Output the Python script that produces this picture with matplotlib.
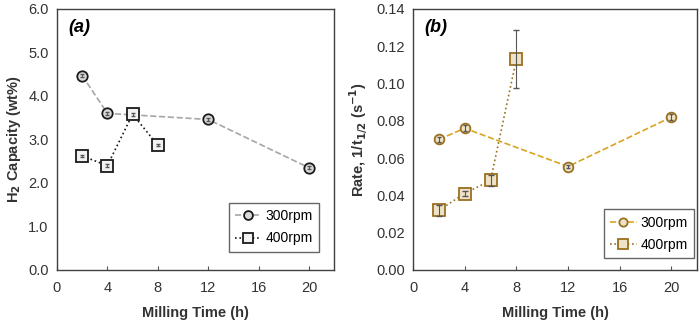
import matplotlib
matplotlib.use("Agg")
import matplotlib.pyplot as plt

plt.rcParams["font.family"] = ["Liberation Sans", "DejaVu Sans"]

time_300 = [2, 4, 12, 20]
time_400 = [2, 4, 6, 8]

cap_300 = [4.47, 3.60, 3.46, 2.35]
cap_400 = [2.62, 2.40, 3.58, 2.87]
cap_300_err = [0.03, 0.03, 0.03, 0.03]
cap_400_err = [0.03, 0.03, 0.03, 0.03]

rate_300 = [0.070, 0.076, 0.0555, 0.082]
rate_400 = [0.032, 0.041, 0.048, 0.113]
rate_300_err = [0.0015, 0.0015, 0.001, 0.0015]
rate_400_err = [0.003, 0.0015, 0.003, 0.0155]

x_ticks = [0, 4, 8, 12, 16, 20]

fig = plt.figure(figsize=(7, 3.21), dpi=100)
ax1 = fig.add_axes([0.0814, 0.159, 0.396, 0.813])
ax2 = fig.add_axes([0.590, 0.159, 0.406, 0.813])

label_kw = dict(fontsize=10.5, fontweight="bold", color="#333333")
err_kw = dict(fmt="none", ecolor="#555555", elinewidth=0.8, capsize=1.5, zorder=4)


def series(ax, x, y, err, label, color, ls, marker, ms, mfc, mec, capsize=1.5):
    ax.plot(x, y, color=color, ls=ls, lw=1.2, marker=marker, ms=ms,
            mfc=mfc, mec=mec, mew=1.3, label=label, zorder=3)
    ax.errorbar(x, y, yerr=err, **{**err_kw, "capsize": capsize})


# (a) capacity
series(ax1, time_300, cap_300, cap_300_err, "300rpm", "#a6a6a6", "--", "o", 7.5,
       "#d9d9d9", "#1a1a1a")
series(ax1, time_400, cap_400, cap_400_err, "400rpm", "#1a1a1a", ":", "s", 8,
       "#f2f2f2", "#1a1a1a")
ax1.set_xlim(0, 22)
ax1.set_ylim(0, 6)
ax1.set_yticks([0, 1, 2, 3, 4, 5, 6])
ax1.set_yticklabels([f"{v:.1f}" for v in [0, 1, 2, 3, 4, 5, 6]])
ax1.set_ylabel("H$_\\mathbf{2}$ Capacity (wt%)", **label_kw)
ax1.text(0.04, 0.93, "(a)", transform=ax1.transAxes, fontsize=13,
         fontweight="bold", style="italic", va="center")

# (b) rate
series(ax2, time_300, rate_300, rate_300_err, "300rpm", "#d9a520", "--", "o", 7,
       "#eee3c8", "#9a7020")
series(ax2, time_400, rate_400, rate_400_err, "400rpm", "#9a7020", ":", "s", 8,
       "#eee3c8", "#9a7020", capsize=2)
ax2.set_xlim(0, 22)
ax2.set_ylim(0, 0.14)
rate_ticks = [0, 0.02, 0.04, 0.06, 0.08, 0.10, 0.12, 0.14]
ax2.set_yticks(rate_ticks)
ax2.set_yticklabels([f"{v:.2f}" for v in rate_ticks])
ax2.set_ylabel("Rate, 1/t$_\\mathbf{1/2}$ (s$^\\mathbf{-1}$)", **label_kw)
ax2.text(0.04, 0.93, "(b)", transform=ax2.transAxes, fontsize=13,
         fontweight="bold", style="italic", va="center")

for ax, anchor in ((ax1, (0.945, 0.07)), (ax2, (0.99, 0.045))):
    ax.set_xticks(x_ticks)
    ax.set_xlabel("Milling Time (h)", labelpad=8, **label_kw)
    ax.tick_params(axis="x", direction="in", length=3, pad=8, labelsize=10.5,
                   color="#555555", labelcolor="#333333")
    ax.tick_params(axis="y", length=0, pad=6, labelsize=10.5, labelcolor="#333333")
    for s in ax.spines.values():
        s.set_color("#404040")
        s.set_linewidth(1)
    leg = ax.legend(loc="lower right", bbox_to_anchor=anchor, fontsize=10,
                    frameon=True, fancybox=False, edgecolor="#404040",
                    handlelength=1.9, handletextpad=0.3, borderpad=0.45,
                    labelspacing=0.6, borderaxespad=0, markerscale=0.85)
    leg.get_frame().set_linewidth(1)

fig.savefig("out.png", dpi=100)
